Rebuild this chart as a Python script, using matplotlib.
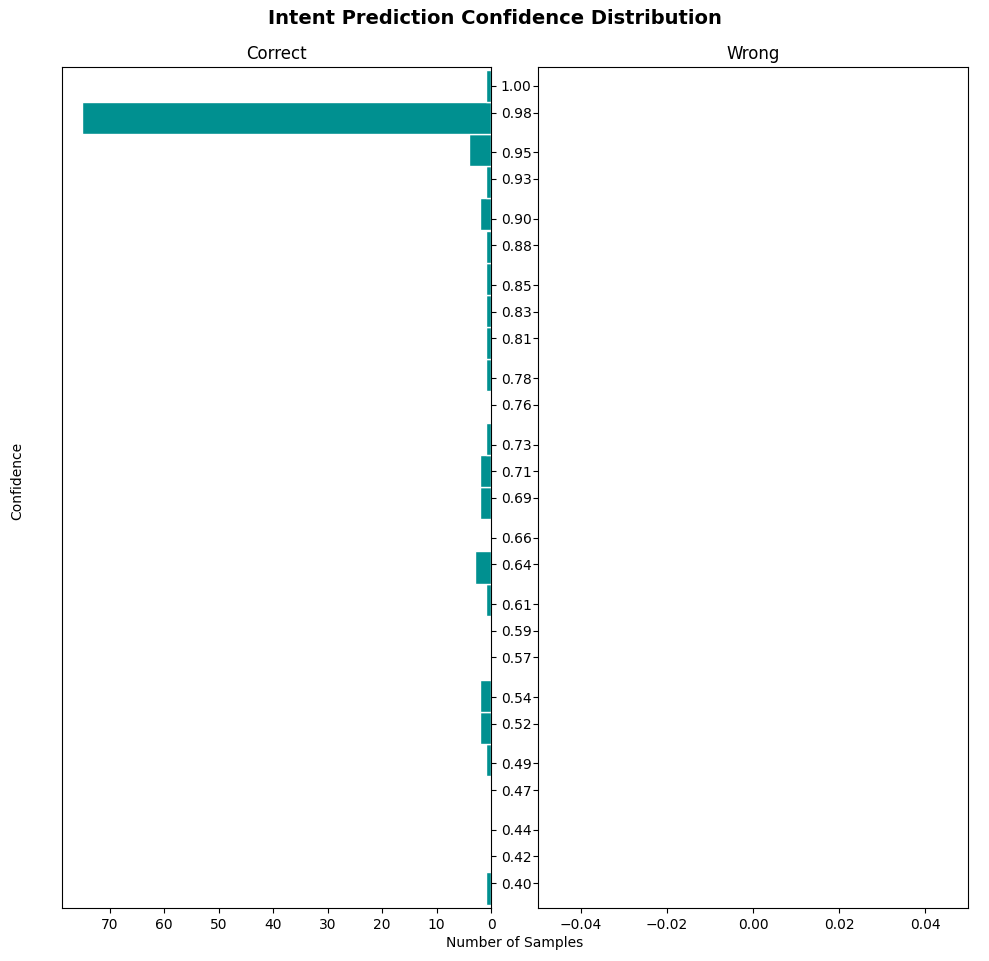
import numpy as np
import matplotlib
matplotlib.use("Agg")
import matplotlib.pyplot as plt

# centros de los bins de confianza
centros = [0.3959, 0.4201, 0.4442, 0.4684, 0.4925, 0.5167, 0.5409, 0.5651,
           0.5892, 0.6133, 0.6375, 0.6617, 0.6858, 0.7100, 0.7341, 0.7583,
           0.7825, 0.8066, 0.8308, 0.8549, 0.8791, 0.9033, 0.9274, 0.9516,
           0.9757, 0.9999]
ancho_bin = 0.02416

# cantidad de muestras correctas por bin
correctas = [1, 0, 0, 0, 1, 2, 2, 0, 0, 1, 3, 0, 2, 2, 1, 0,
             1, 1, 1, 1, 1, 2, 1, 4, 75, 1]
# cantidad de muestras erroneas por bin (vacio)
erroneas = [0] * len(centros)

color_barra = "#009090"

fig = plt.figure(figsize=(9.89, 9.61), dpi=100)
ax1 = fig.add_axes([62/989, 1 - 908/961, 429/989, 841/961])
ax2 = fig.add_axes([538/989, 1 - 908/961, 430/989, 841/961], sharey=ax1)

# panel izquierdo: correctas, barras hacia la izquierda
ax1.barh(centros, correctas, height=ancho_bin, color=color_barra, edgecolor="white")
ax1.set_xlim(max(correctas) * 1.05, 0)
ax1.set_title("Correct")
ax1.yaxis.tick_right()

# panel derecho: erroneas (no hay ninguna)
ax2.barh(centros, erroneas, height=ancho_bin, color="#c04040", edgecolor="white")
ax2.set_xlim(-0.05, 0.05)
ax2.set_title("Wrong")
ax2.tick_params(axis="y", left=True, labelleft=False)

ticks = np.round(centros, 2)
ax1.set_yticks(ticks)
ax1.set_yticklabels([f"{t:.2f}" for t in ticks])
ax1.set_ylim(0.3812, 1.0143)

fig.text(17/989, 0.5, "Confidence", rotation=90, va="center", ha="center")
fig.text(515/989, 1 - 943/961, "Number of Samples", ha="center", va="center")
fig.suptitle("Intent Prediction Confidence Distribution", fontsize=14,
             fontweight="bold", y=1 - 18/961, va="center")

plt.savefig("out.png", dpi=100)
